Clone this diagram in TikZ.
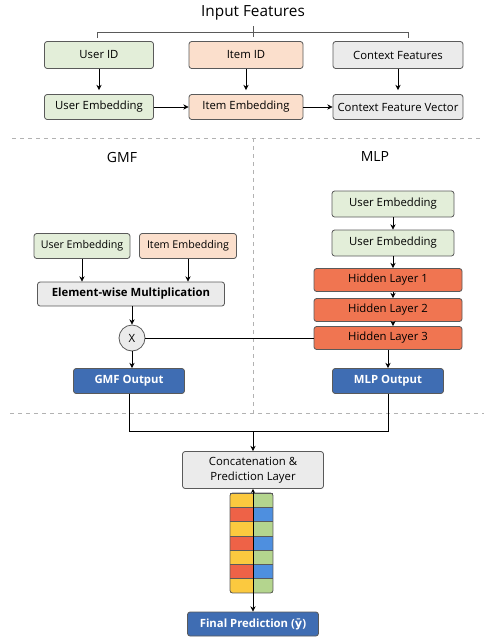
\documentclass[tikz,border=0pt]{standalone}
\usepackage{fontspec}
\setmainfont{Open Sans}
\newfontfamily\dejavu{DejaVu Sans}
\usetikzlibrary{arrows.meta,calc}

\definecolor{bxgreen}{HTML}{E3EED9}
\definecolor{bxorange}{HTML}{FBDFCC}
\definecolor{bxgray}{HTML}{EBEBEB}
\definecolor{bxhidden}{HTML}{F07551}
\definecolor{bxblue}{HTML}{3F6DB3}
\definecolor{bxline}{HTML}{5A5A5A}
\definecolor{stkyel}{HTML}{FBC93F}
\definecolor{stkred}{HTML}{EE6247}
\definecolor{stkgrn}{HTML}{B4D58E}
\definecolor{stkblu}{HTML}{4E8FDF}

\tikzset{
  box/.style={draw=bxline, rounded corners=2pt, line width=0.6pt,
    font=\fontsize{8.5}{10}\selectfont, inner sep=0pt},
  arr/.style={-{Stealth[length=4pt,width=4pt]}, line width=0.6pt},
  sep/.style={draw=gray!60, dashed, line width=0.5pt}
}

\begin{document}
\begin{tikzpicture}[x=0.75pt, y=-0.75pt]
\useasboundingbox (0,0) rectangle (484,637);

% input features
\node [font=\fontsize{11.5}{13}\selectfont] (title) at (253,13) {Input Features};
\coordinate (brL) at (97,32);
\coordinate (brR) at (408,32);
\coordinate (brC) at (253,32);
\draw [line width=0.6pt, bxline] ($(brL)+(0,6)$) -- (brL) -- (brR) -- ($(brR)+(0,6)$);
\draw [line width=0.6pt, bxline] ($(brC)+(0,-6)$) -- ($(brC)+(0,5)$);

\node [box, fill=bxgreen, minimum width=109*0.75pt, minimum height=27*0.75pt] (uid) at (99,55) {User ID};
\node [box, fill=bxorange, minimum width=114*0.75pt, minimum height=27*0.75pt] (iid) at (246,55) {Item ID};
\node [box, fill=bxgray, minimum width=130*0.75pt, minimum height=27*0.75pt] (ctx) at (398,55) {Context Features};
\node [box, fill=bxgreen, minimum width=109*0.75pt, minimum height=25*0.75pt] (uemb) at (99,107) {User Embedding};
\node [box, fill=bxorange, minimum width=114*0.75pt, minimum height=25*0.75pt] (iemb) at (246,107) {Item Embedding};
\node [box, fill=bxgray, minimum width=130*0.75pt, minimum height=25*0.75pt] (cvec) at (398,107) {Context Feature Vector};

\draw [arr, shorten >=3pt] (uid) -- (uemb);
\draw [arr, shorten >=3pt] (iid) -- (iemb);
\draw [arr, shorten >=3pt] (ctx) -- (cvec);
\draw [arr] (uemb) -- (iemb);
\draw [arr] (iemb) -- (cvec);

% separators
\draw [sep] (12,138) -- (484,138);
\draw [sep] (253,138) -- (253,413);
\draw [sep] (10,413) -- (484,413);

% GMF
\node [font=\fontsize{10.5}{12}\selectfont] (gmf) at (122,157) {GMF};
\node [box, fill=bxgreen, minimum width=96*0.75pt, minimum height=25*0.75pt,
  font=\fontsize{8}{10}\selectfont] (guemb) at (82,246) {User Embedding};
\node [box, fill=bxorange, minimum width=97*0.75pt, minimum height=25*0.75pt,
  font=\fontsize{8}{10}\selectfont] (giemb) at (188,246) {Item Embedding};
\node [box, fill=bxgray, minimum width=187*0.75pt, minimum height=24*0.75pt,
  font=\fontsize{8.5}{10}\selectfont\bfseries] (mult) at (131,294) {Element-wise Multiplication};
\node [draw=bxline, circle, fill=bxgray, line width=0.6pt, minimum size=26*0.75pt,
  inner sep=0pt, font=\fontsize{8.5}{10}\selectfont] (times) at (132,338) {X};
\node [box, fill=bxblue, text=white, minimum width=111*0.75pt, minimum height=25*0.75pt,
  font=\fontsize{8.5}{10}\selectfont\bfseries] (gmfout) at (129,381) {GMF Output};

\draw [arr] (guemb) -- (guemb |- mult.north);
\draw [arr] (giemb) -- (giemb |- mult.north);
\draw [arr] (mult.south -| times) -- (times);
\draw [arr] (times.south) -- (times |- gmfout.north);

% MLP
\node [font=\fontsize{10.5}{12}\selectfont] (mlp) at (375,156) {MLP};
\node [box, fill=bxgreen, minimum width=122*0.75pt, minimum height=26*0.75pt] (muemb1) at (393,204) {User Embedding};
\node [box, fill=bxgreen, minimum width=122*0.75pt, minimum height=26*0.75pt] (muemb2) at (393,243) {User Embedding};
\foreach \n/\y in {1/280, 2/310, 3/338}
  \node [box, fill=bxhidden, minimum width=148*0.75pt, minimum height=23*0.75pt] (hl\n) at (388,\y) {Hidden Layer \n};
\node [box, fill=bxblue, text=white, minimum width=111*0.75pt, minimum height=25*0.75pt,
  font=\fontsize{8.5}{10}\selectfont\bfseries] (mlpout) at (388,381) {MLP Output};

\draw [arr] (muemb1) -- (muemb2);
\draw [arr] (muemb2.south) -- (muemb2.south |- hl1.north);
\draw [arr] (hl1.south -| muemb2) -- (hl2.north -| muemb2);
\draw [arr] (hl2.south -| muemb2) -- (hl3.north -| muemb2);
\draw [arr] (hl3) -- (mlpout);
\draw [line width=0.6pt] (times) -- (hl3.west);

% merge
\coordinate (join) at (253,431);
\draw [line width=0.6pt] (gmfout.south) -- (gmfout.south |- join) -- (mlpout.south |- join) -- (mlpout.south);
\node [box, fill=bxgray, minimum width=141*0.75pt, minimum height=37*0.75pt, align=center,
  font=\fontsize{8.5}{11}\selectfont] (concat) at (253,470) {Concatenation \&\\Prediction Layer};
\draw [arr] (join) -- (concat);

% embedding stack
\foreach \i/\cl/\cr in {0/stkyel/stkgrn, 1/stkred/stkblu, 2/stkyel/stkgrn, 3/stkred/stkblu,
    4/stkyel/stkgrn, 5/stkred/stkblu, 6/stkyel/stkgrn} {
  \fill [\cl] (230,493+\i*14.29) rectangle (253,493+\i*14.29+14.29);
  \fill [\cr] (253,493+\i*14.29) rectangle (273,493+\i*14.29+14.29);
  \draw [bxline, line width=0.5pt] (230,493+\i*14.29) -- (273,493+\i*14.29);
}
\draw [bxline, line width=0.6pt, rounded corners=2pt] (230,493) rectangle (273,593);

\node [box, fill=bxblue, text=white, minimum width=131*0.75pt, minimum height=24*0.75pt,
  font=\fontsize{8.5}{10}\selectfont\bfseries] (final) at (253,624) {Final Prediction ({\dejavu ȳ})};
\draw [{Stealth[length=3pt,width=3pt]}-{Stealth[length=4pt,width=4pt]}, line width=0.6pt] (concat) -- (final);
\end{tikzpicture}
\end{document}
